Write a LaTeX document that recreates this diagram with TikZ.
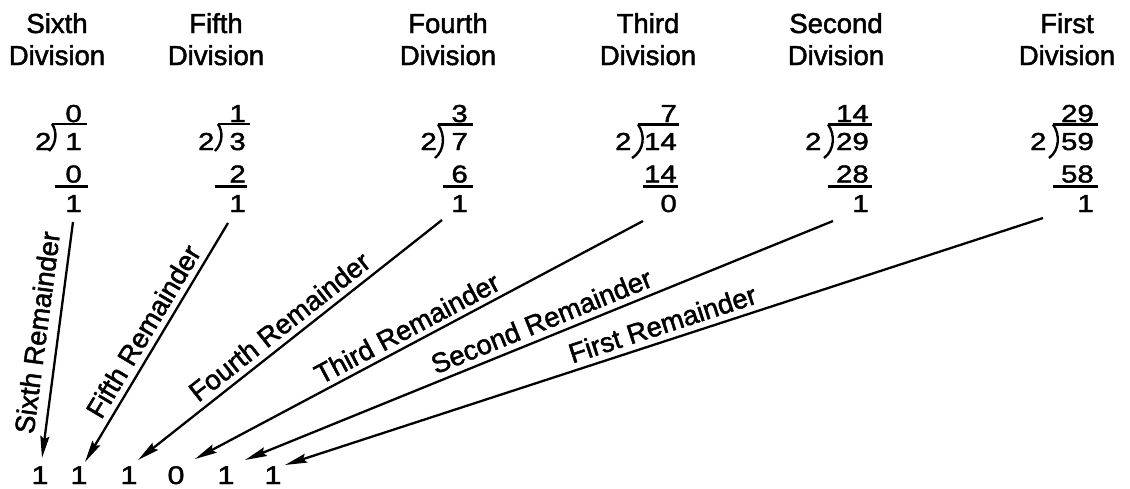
\documentclass[tikz,border=0pt]{standalone}
\usepackage{fontspec}
\setmainfont{Liberation Sans}
% text face, slightly emboldened
\newfontfamily\txtfont[BoldFont={Liberation Sans}, BoldFeatures={FakeBold=1.7}]{Liberation Sans}
% digits, a little wider and emboldened
\newfontfamily\numfont[FakeStretch=1.2, BoldFont={Liberation Sans}, BoldFeatures={FakeBold=1.7}]{Liberation Sans}
\usetikzlibrary{arrows.meta,calc}

\begin{document}
\begin{tikzpicture}[x=1pt,y=-1pt,
  head/.style={anchor=base, inner sep=0pt, font=\txtfont\bfseries\fontsize{27.5}{33}\selectfont},
  num/.style={anchor=base east, inner sep=0pt, font=\numfont\bfseries\fontsize{24.5}{28}\selectfont},
  bit/.style={anchor=base, inner sep=0pt, font=\numfont\bfseries\fontsize{25.5}{30}\selectfont},
  rule/.style={line width=2.4pt},
  arr/.style={line width=2.3pt, -{Stealth[length=22pt,width=9pt,inset=3pt]}},
  lbl/.style={sloped, anchor=south, inner sep=6pt, font=\txtfont\bfseries\fontsize{27.5}{32}\selectfont}]

\useasboundingbox (0,0) rectangle (1130,488);

% column headings
\node[head] (h6a) at (57,33)   {Sixth};
\node[head] (h6b) at (57,65)   {Division};
\node[head] (h5a) at (216,33)  {Fifth};
\node[head] (h5b) at (216,65)  {Division};
\node[head] (h4a) at (448,33)  {Fourth};
\node[head] (h4b) at (448,65)  {Division};
\node[head] (h3a) at (648,33)  {Third};
\node[head] (h3b) at (648,65)  {Division};
\node[head] (h2a) at (836,33)  {Second};
\node[head] (h2b) at (836,65)  {Division};
\node[head] (h1a) at (1067,33) {First};
\node[head] (h1b) at (1067,65) {Division};

% sixth division: 1 / 2
\node[num] (q6) at (82,122)   {0};
\node[num] (d6) at (82,150)   {1};
\node[num] (m6) at (82,182.5) {0};
\node[num] (r6) at (82,212)   {1};
\node[num] (k6) at (51.6,150) {2};
\draw[rule] (52,124) -- (87,124);
\draw[rule] (52,124) .. controls (57,131) and (57,143) .. (49,151);
\draw[rule] (55,186.5) -- (88,186.5);

% fifth division: 3 / 2
\node[num] (q5) at (246,122)   {1};
\node[num] (d5) at (246,150)   {3};
\node[num] (m5) at (246,182.5) {2};
\node[num] (r5) at (246,212)   {1};
\node[num] (k5) at (214.6,150) {2};
\draw[rule] (218,124) -- (250,124);
\draw[rule] (218,124) .. controls (223,131) and (223,143) .. (215,151);
\draw[rule] (215,186.5) -- (247,186.5);

% fourth division: 7 / 2
\node[num] (q4) at (468,122)   {3};
\node[num] (d4) at (468,150)   {7};
\node[num] (m4) at (468,182.5) {6};
\node[num] (r4) at (468,212)   {1};
\node[num] (k4) at (437,150)   {2};
\draw[rule] (438,124.5) -- (473,124.5);
\draw[rule] (438,124.5) .. controls (445,134) and (445,150) .. (435,158);
\draw[rule] (443,186.5) -- (473,186.5);

% third division: 14 / 2
\node[num] (q3) at (677,122)   {7};
\node[num] (d3) at (677,150)   {14};
\node[num] (m3) at (677,182.5) {14};
\node[num] (r3) at (677,212)   {0};
\node[num] (k3) at (631.6,150) {2};
\draw[rule] (638,124.5) -- (679,124.5);
\draw[rule] (638,124.5) .. controls (645,134) and (645,150) .. (632,158);
\draw[rule] (643,186.5) -- (678,186.5);

% second division: 29 / 2
\node[num] (q2) at (869,122)   {14};
\node[num] (d2) at (869,150)   {29};
\node[num] (m2) at (869,182.5) {28};
\node[num] (r2) at (869,212)   {1};
\node[num] (k2) at (821.6,150) {2};
\draw[rule] (828,124.5) -- (872,124.5);
\draw[rule] (828,124.5) .. controls (835,134) and (835,150) .. (824,158);
\draw[rule] (828,186.5) -- (872,186.5);

% first division: 59 / 2
\node[num] (q1) at (1094,122)   {29};
\node[num] (d1) at (1094,150)   {59};
\node[num] (m1) at (1094,182.5) {58};
\node[num] (r1) at (1094,212)   {1};
\node[num] (k1) at (1046.6,150) {2};
\draw[rule] (1053,124.5) -- (1098,124.5);
\draw[rule] (1053,124.5) .. controls (1060,134) and (1060,150) .. (1049,158);
\draw[rule] (1053,186.5) -- (1098,186.5);

% binary result, read from the last remainder to the first
\node[bit] (b1) at (40,484)  {1};
\node[bit] (b2) at (79,484)  {1};
\node[bit] (b3) at (129,484) {1};
\node[bit] (b4) at (176,484) {0};
\node[bit] (b5) at (226,484) {1};
\node[bit] (b6) at (273,484) {1};

% remainders carried down to their binary places
\draw[arr] ($(r6.base east)+(-9,10)$)  -- node[lbl,pos=0.48,inner sep=10pt] {Sixth Remainder}  ($(b1.base)+(2,-26)$);
\draw[arr] ($(r5.base east)+(-18,11)$) -- node[lbl,pos=0.49] {Fifth Remainder}  ($(b2.base)+(6,-22)$);
\draw[arr] ($(r4.base east)+(-26,8)$)  -- node[lbl,pos=0.50] {Fourth Remainder} ($(b3.base)+(9,-24)$);
\draw[arr] ($(r3.base east)+(-34,9)$)  -- node[lbl,pos=0.51,inner sep=5pt] {Third Remainder}  ($(b4.base)+(19,-25)$);
\draw[arr] ($(r2.base east)+(-36,9)$)  -- node[lbl,pos=0.485] {Second Remainder} ($(b5.base)+(19,-24)$);
\draw[arr] ($(r1.base east)+(-51,6)$)  -- node[lbl,pos=0.495] {First Remainder}  ($(b6.base)+(12,-19)$);
\end{tikzpicture}
\end{document}
